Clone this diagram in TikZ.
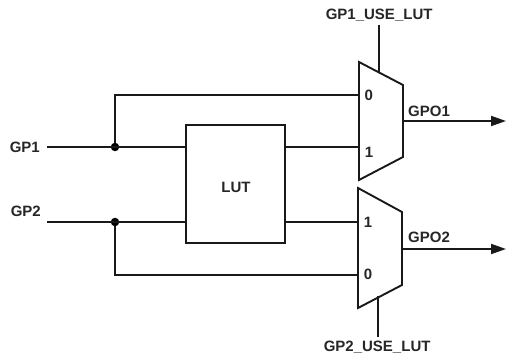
\documentclass[tikz,border=0pt]{standalone}
\usepackage{fontspec}
\setmainfont{Liberation Sans}
\usetikzlibrary{arrows.meta}
\tikzset{
  wire/.style={line width=1.9pt,black!90},
  lbl/.style={inner sep=0pt,font=\fontsize{15}{17}\selectfont\bfseries,text=black!85},
  dotj/.style={circle,fill=black,inner sep=0pt,minimum size=8.5pt},
  lutbox/.style={draw=black!90,line width=1.9pt,minimum width=99pt,minimum height=118pt,inner sep=0pt},
  arrowed/.style={wire,-{Triangle[length=15pt,width=10pt]}}
}
\begin{document}
\begin{tikzpicture}[x=1pt,y=-1pt]
\useasboundingbox (0,0) rectangle (506,358);
% LUT
\node[lutbox,lbl] (lut) at (235.5,184) {};
\node[lbl] (lutl) at (236,187) {LUT};
% mux 1
\coordinate (m1a) at (359,62);
\coordinate (m1b) at (403,85);
\coordinate (m1c) at (403,157);
\coordinate (m1d) at (359,180);
\draw[wire,line join=miter] (m1a) -- (m1b) -- (m1c) -- (m1d) -- cycle;
% mux 2
\coordinate (m2a) at (358,188);
\coordinate (m2b) at (402,212);
\coordinate (m2c) at (402,285);
\coordinate (m2d) at (358,308);
\draw[wire,line join=miter] (m2a) -- (m2b) -- (m2c) -- (m2d) -- cycle;
% labels
\node[lbl,anchor=east] (gp1) at (40,147.5) {GP1};
\node[lbl,anchor=east] (gp2) at (41,211.5) {GP2};
\node[lbl,anchor=east] (s1) at (432.7,15) {GP1\_USE\_LUT};
\node[lbl,anchor=east] (s2) at (430.7,347) {GP2\_USE\_LUT};
\node[lbl,anchor=west] (o1) at (408,111) {GPO1};
\node[lbl,anchor=west] (o2) at (408,237) {GPO2};
\node[lbl] (m1z) at (368.7,95) {0};
\node[lbl] (m1o) at (369,152.5) {1};
\node[lbl] (m2o) at (368,222) {1};
\node[lbl] (m2z) at (368,274.5) {0};
% junctions
\node[dotj] (j1) at (115,147) {};
\node[dotj] (j2) at (115,222) {};
% endpoints
\coordinate (g1s) at (47,147);
\coordinate (g2s) at (47,222);
\coordinate (i10) at (359,95);
\coordinate (i11) at (359,147);
\coordinate (i21) at (358,222);
\coordinate (i20) at (358,275);
\coordinate (s1a) at (379,25);
\coordinate (s1b) at (379,72);
\coordinate (s2a) at (378,337);
\coordinate (s2b) at (378,296);
\coordinate (o1a) at (403,121);
\coordinate (o1b) at (506,121);
\coordinate (o2a) at (402,249);
\coordinate (o2b) at (506,249);
% wires
\draw[wire] (g1s) -- (lut.west |- g1s);
\draw[wire] (g2s) -- (lut.west |- g2s);
\draw[wire] (j1) |- (i10);
\draw[wire] (j2) |- (i20);
\draw[wire] (lut.east |- i11) -- (i11);
\draw[wire] (lut.east |- i21) -- (i21);
\draw[wire] (s1a) -- (s1b);
\draw[wire] (s2a) -- (s2b);
\draw[arrowed] (o1a) -- (o1b);
\draw[arrowed] (o2a) -- (o2b);
\end{tikzpicture}
\end{document}
